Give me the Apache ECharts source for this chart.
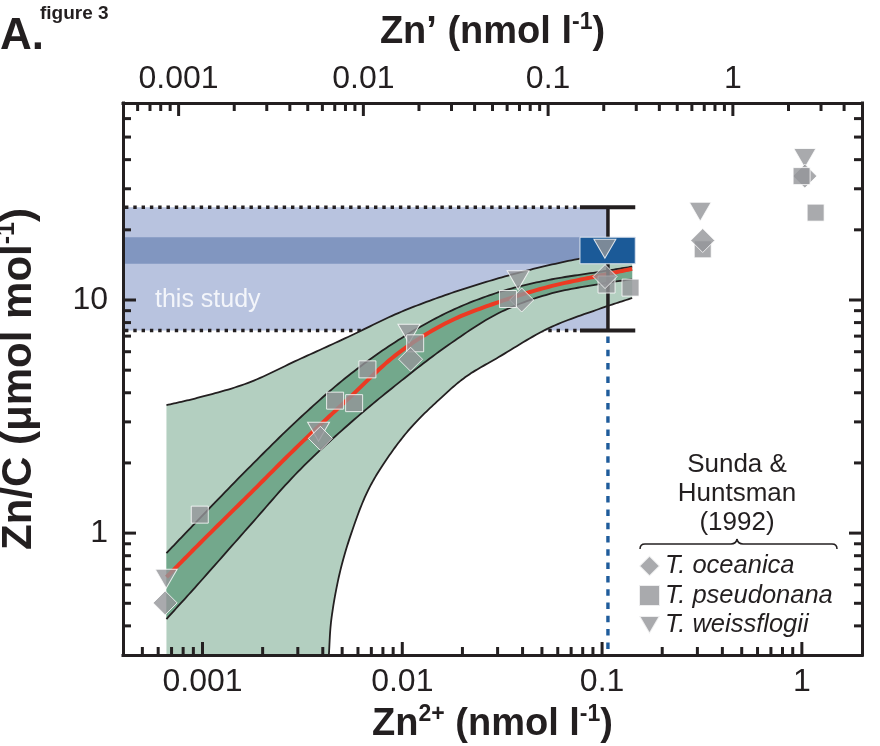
<!DOCTYPE html>
<html>
<head>
<meta charset="utf-8">
<script src="https://cdn.jsdelivr.net/npm/echarts@6/dist/echarts.min.js"></script>
<style>html,body{margin:0;padding:0;background:#fff}#chart{width:880px;height:746px}</style>
</head>
<body>
<div id="chart"></div>
<script>
// ---------- axis ranges & ticks ----------
const zn2Range = [0.0004, 2];          // bottom axis, Zn2+ (nmol l-1)
const znPrimeRange = [0.0005, 5];      // top axis, Zn' (nmol l-1)
const znCRange = [0.3, 70];            // y axis, Zn/C (umol mol-1)

const zn2TickLabels = [0.001, 0.01, 0.1, 1];
const znPrimeTickLabels = [0.001, 0.01, 0.1, 1];
const znCTickLabels = [1, 10];

const zn2MinorTicks = [0.0005, 0.0006, 0.0007, 0.0008, 0.0009,
  0.002, 0.003, 0.004, 0.005, 0.006, 0.007, 0.008, 0.009,
  0.02, 0.03, 0.04, 0.05, 0.06, 0.07, 0.08, 0.09,
  0.2, 0.3, 0.4, 0.5, 0.6, 0.7, 0.8, 0.9];
const znPrimeMinorTicks = [0.0006, 0.0007, 0.0008, 0.0009,
  0.002, 0.003, 0.004, 0.005, 0.006, 0.007, 0.008, 0.009,
  0.02, 0.03, 0.04, 0.05, 0.06, 0.07, 0.08, 0.09,
  0.2, 0.3, 0.4, 0.5, 0.6, 0.7, 0.8, 0.9, 2, 3, 4];
const znCMinorTicks = [0.4, 0.5, 0.6, 0.7, 0.8, 0.9, 2, 3, 4, 5, 6, 7, 8, 9, 20, 30, 40, 50, 60];

// ---------- "this study" ----------
const studyZn2 = 0.107;
const studyZn2Range = [0.0775, 0.1466];
const studyZnCRange = [7.4, 25];
const studyZnCCore = [14.3, 18.6];

// ---------- model fit & confidence bands ----------
const curveZn2 =   [0.00066, 0.00094, 0.00168, 0.0030, 0.00535, 0.00955, 0.0170, 0.0304, 0.0542, 0.0966, 0.1415];
const outerUpper = [3.54, 3.80, 4.40, 5.53, 6.94, 8.79, 10.6, 12.4, 14.1, 15.6, 16.4];
const innerUpper = [0.821, 1.126, 1.88, 3.06, 4.72, 6.73, 8.88, 10.8, 12.2, 13.2, 13.9];
const fitLine =    [0.647, 0.880, 1.44, 2.36, 3.76, 5.92, 8.05, 9.80, 11.4, 12.7, 13.6];
const innerLower = [0.428, 0.598, 1.05, 1.83, 2.91, 4.40, 6.41, 8.79, 10.6, 11.7, 12.3];
const outerLowerZn2 = [0.00429, 0.00441, 0.00486, 0.00556, 0.00675, 0.0085, 0.0111, 0.0152, 0.0207, 0.0304, 0.0542, 0.0966, 0.1415];
const outerLower =    [0.3, 0.423, 0.673, 1.0, 1.53, 2.12, 2.85, 3.72, 4.67, 5.69, 7.58, 9.15, 10.2];

// ---------- Sunda & Huntsman (1992) ----------
const oceanicaZn2 = [0.00065, 0.00389, 0.0110, 0.0396, 0.1035, 0.319, 1.035];
const oceanicaZnC = [0.502, 2.55, 5.57, 10.0, 12.6, 18.0, 34.0];
const pseudonanaZn2 = [0.000969, 0.00461, 0.00574, 0.00669, 0.0116, 0.0338, 0.1053, 0.1388, 0.319, 0.997, 1.172];
const pseudonanaZnC = [1.20, 3.70, 3.61, 5.04, 6.52, 10.1, 11.65, 11.3, 16.5, 34.0, 23.7];
const weissflogiiZn2 = [0.000658, 0.00381, 0.0108, 0.0380, 0.1033, 0.310, 1.035];
const weissflogiiZnC = [0.637, 2.72, 7.16, 12.15, 16.6, 23.9, 40.6];

// ---------- styling ----------
const FONT = "'Liberation Sans', Arial, Helvetica, sans-serif";
const INK = '#231f20';
const GRAY = '#939598';
const TRI = 'path://M0,0L22,0L11,19Z';

function pairs(xs, ys) { return xs.map((x, i) => [x, ys[i]]); }
function fmt(v) { return String(Number(Number(v).toPrecision(6))); }
function labelFormatter(list) {
  return function (v) {
    const n = Number(Number(v).toPrecision(6));
    return list.some(t => Math.abs(t - n) / t < 1e-6) ? fmt(n) : '';
  };
}

// centripetal Catmull-Rom through pixel points (render-time smoothing only)
function smoothPath(pts, steps) {
  if (pts.length < 3) return pts.slice();
  const out = [pts[0]];
  const n = pts.length;
  const get = (i) => {
    if (i < 0) return [2 * pts[0][0] - pts[1][0], 2 * pts[0][1] - pts[1][1]];
    if (i >= n) return [2 * pts[n - 1][0] - pts[n - 2][0], 2 * pts[n - 1][1] - pts[n - 2][1]];
    return pts[i];
  };
  const dt = (a, b) => Math.max(Math.pow(Math.hypot(b[0] - a[0], b[1] - a[1]), 0.5), 1e-4);
  const lerp = (a, b, ta, tb, t) => [((tb - t) * a[0] + (t - ta) * b[0]) / (tb - ta), ((tb - t) * a[1] + (t - ta) * b[1]) / (tb - ta)];
  for (let i = 0; i < n - 1; i++) {
    const p0 = get(i - 1), p1 = get(i), p2 = get(i + 1), p3 = get(i + 2);
    const t0 = 0, t1 = t0 + dt(p0, p1), t2 = t1 + dt(p1, p2), t3 = t2 + dt(p2, p3);
    for (let s = 1; s <= steps; s++) {
      const t = t1 + (t2 - t1) * s / steps;
      const A1 = lerp(p0, p1, t0, t1, t), A2 = lerp(p1, p2, t1, t2, t), A3 = lerp(p2, p3, t2, t3, t);
      const B1 = lerp(A1, A2, t0, t2, t), B2 = lerp(A2, A3, t1, t3, t);
      out.push(lerp(B1, B2, t1, t2, t));
    }
  }
  return out;
}
function curvePx(api, xs, ys) { return smoothPath(xs.map((x, i) => api.coord([x, ys[i]])), 16); }

const chart = echarts.init(document.getElementById('chart'), null, { renderer: 'canvas', width: 880, height: 746 });

const supRich = { sup: { fontSize: 23, fontWeight: 'bold', fontFamily: FONT, color: INK, lineHeight: 26, verticalAlign: 'top' } };
const nameStyle = { fontSize: 38, fontWeight: 'bold', fontFamily: FONT, color: INK, lineHeight: 44, rich: supRich };
const yNameStyle = { fontSize: 42, fontWeight: 'bold', fontFamily: FONT, color: INK, lineHeight: 48,
  rich: { sup: { fontSize: 25, fontWeight: 'bold', fontFamily: FONT, color: INK, lineHeight: 28, verticalAlign: 'top' } } };
const axisLineStyle = { show: true, lineStyle: { color: INK, width: 3, cap: 'square' } };

// -------- render functions --------
function studyBandRender(params, api) {
  const cs = params.coordSys;
  const a = api.coord([zn2Range[0], studyZnCRange[1]]);
  const b = api.coord([studyZn2, studyZnCRange[0]]);
  const c = api.coord([zn2Range[0], studyZnCCore[1]]);
  const d = api.coord([studyZn2, studyZnCCore[0]]);
  const capL = api.coord([studyZn2Range[0], studyZnCRange[0]])[0];
  const ten = api.coord([1, 10])[1];
  const dot = { stroke: INK, lineWidth: 3.5, lineDash: [3.4, 4.9] };
  return { type: 'group', children: [
    { type: 'rect', shape: { x: cs.x, y: a[1], width: b[0] - cs.x, height: b[1] - a[1] }, style: { fill: '#b8c3df' } },
    { type: 'rect', shape: { x: cs.x, y: c[1], width: d[0] - cs.x, height: d[1] - c[1] }, style: { fill: '#8196c0' } },
    { type: 'line', shape: { x1: cs.x + 2, y1: a[1], x2: capL, y2: a[1] }, style: dot },
    { type: 'line', shape: { x1: cs.x + 2, y1: b[1], x2: capL, y2: b[1] }, style: dot },
    { type: 'text', x: cs.x + 32, y: ten, style: { text: 'this study', fill: '#f3f5fa', fontSize: 25, fontFamily: FONT, verticalAlign: 'middle', align: 'left' } }
  ] };
}

function outerBandRender(params, api) {
  const up = curvePx(api, curveZn2, outerUpper);
  const lo = curvePx(api, outerLowerZn2, outerLower).reverse();
  const pts = up.concat(lo, [api.coord([curveZn2[0], znCRange[0]])]);
  return { type: 'polygon', shape: { points: pts }, style: { fill: '#b3cfc0' } };
}

function innerBandRender(params, api) {
  const up = curvePx(api, curveZn2, innerUpper);
  const lo = curvePx(api, curveZn2, innerLower).reverse();
  return { type: 'polygon', shape: { points: up.concat(lo) }, style: { fill: '#73a88c' } };
}

function bandLinesRender(params, api) {
  const st = { stroke: INK, lineWidth: 1.8, fill: null, lineJoin: 'round' };
  return { type: 'group', children: [
    { type: 'polyline', shape: { points: curvePx(api, curveZn2, outerUpper) }, style: st },
    { type: 'polyline', shape: { points: curvePx(api, outerLowerZn2, outerLower) }, style: st },
    { type: 'polyline', shape: { points: curvePx(api, curveZn2, innerUpper) }, style: st },
    { type: 'polyline', shape: { points: curvePx(api, curveZn2, innerLower) }, style: st }
  ] };
}

function fitLineRender(params, api) {
  return { type: 'polyline', shape: { points: curvePx(api, curveZn2, fitLine) },
    style: { stroke: '#ec3a23', lineWidth: 4, fill: null, lineJoin: 'round' } };
}

function errorBarRender(params, api) {
  const top = api.coord([studyZn2, studyZnCRange[1]]);
  const bot = api.coord([studyZn2, studyZnCRange[0]]);
  const l = api.coord([studyZn2Range[0], 1])[0];
  const r = api.coord([studyZn2Range[1], 1])[0];
  const yMinPx = api.coord([studyZn2, znCRange[0]])[1];
  return { type: 'group', children: [
    { type: 'line', shape: { x1: top[0], y1: bot[1] + 6, x2: top[0], y2: yMinPx }, style: { stroke: '#1f5c9c', lineWidth: 3.4, lineDash: [6.5, 6.8] } },
    { type: 'line', shape: { x1: top[0], y1: top[1], x2: top[0], y2: bot[1] }, style: { stroke: INK, lineWidth: 3.5 } },
    { type: 'line', shape: { x1: l, y1: top[1], x2: r, y2: top[1] }, style: { stroke: INK, lineWidth: 3.8 } },
    { type: 'line', shape: { x1: l, y1: bot[1], x2: r, y2: bot[1] }, style: { stroke: INK, lineWidth: 3.8 } }
  ] };
}

function studyBoxRender(params, api) {
  const a = api.coord([studyZn2Range[0], studyZnCCore[1]]);
  const b = api.coord([studyZn2Range[1], studyZnCCore[0]]);
  return { type: 'rect', shape: { x: a[0], y: a[1], width: b[0] - a[0], height: b[1] - a[1] }, style: { fill: '#1b5a98', stroke: '#dce3ee', lineWidth: 1 } };
}

function bottomTickRender(params, api) {
  const cs = params.coordSys;
  const x = api.coord([api.value(0), 1])[0];
  const L = api.value(2) ? 13 : 8;
  const y0 = cs.y + cs.height;
  return { type: 'line', shape: { x1: x, y1: y0, x2: x, y2: y0 - L }, style: { stroke: INK, lineWidth: 3 } };
}
function topTickRender(params, api) {
  const cs = params.coordSys;
  const x = api.coord([api.value(0), 1])[0];
  const L = api.value(2) ? 13 : 8;
  return { type: 'line', shape: { x1: x, y1: cs.y, x2: x, y2: cs.y + L }, style: { stroke: INK, lineWidth: 3 } };
}
function yTickRender(params, api) {
  const cs = params.coordSys;
  const y = api.coord([1, api.value(1)])[1];
  const L = api.value(2) ? 13 : 8;
  const r = cs.x + cs.width;
  return { type: 'group', children: [
    { type: 'line', shape: { x1: cs.x, y1: y, x2: cs.x + L, y2: y }, style: { stroke: INK, lineWidth: 3 } },
    { type: 'line', shape: { x1: r, y1: y, x2: r - L, y2: y }, style: { stroke: INK, lineWidth: 3 } }
  ] };
}

const markerStyle = { color: GRAY, borderColor: '#ffffff', borderWidth: 1 };
const oceanicaAll = pairs(oceanicaZn2, oceanicaZnC);
const oceanicaBehind = [3, 6];   // points that sit behind the squares in the original

const braceStyle = { stroke: INK, lineWidth: 1.5, fill: null };

const option = {
  animation: false,
  backgroundColor: '#ffffff',
  textStyle: { fontFamily: FONT },
  grid: { left: 123, right: 18, top: 103, bottom: 91, containLabel: false, outerBoundsMode: 'none' },
  legend: {
    left: 633, top: 548, orient: 'vertical', itemWidth: 21, itemHeight: 21, itemGap: 3.5,
    selectedMode: false,
    textStyle: { fontSize: 25.5, fontStyle: 'italic', fontFamily: FONT, color: INK, lineHeight: 24 },
    data: [
      { name: 'T. oceanica', icon: 'diamond' },
      { name: 'T. pseudonana', icon: 'rect' },
      { name: 'T. weissflogii', icon: TRI }
    ]
  },
  xAxis: [
    {
      type: 'log', logBase: 10, min: zn2Range[0], max: zn2Range[1], position: 'bottom', z: 11,
      axisLine: axisLineStyle, axisTick: { show: false }, splitLine: { show: false }, minorTick: { show: false },
      axisLabel: { fontSize: 32, color: INK, fontFamily: FONT, margin: 11, showMinLabel: false, showMaxLabel: false, formatter: labelFormatter(zn2TickLabels) },
      name: 'Zn{sup|2+} (nmol l{sup|-1})', nameLocation: 'middle', nameGap: 44, nameTextStyle: nameStyle
    },
    {
      type: 'log', logBase: 10, min: znPrimeRange[0], max: znPrimeRange[1], position: 'top', z: 11,
      axisLine: axisLineStyle, axisTick: { show: false }, splitLine: { show: false }, minorTick: { show: false },
      axisLabel: { fontSize: 32, color: INK, fontFamily: FONT, margin: 8, showMinLabel: false, showMaxLabel: false, formatter: labelFormatter(znPrimeTickLabels) },
      name: 'Zn\u2019 (nmol l{sup|-1})', nameLocation: 'middle', nameGap: 48, nameTextStyle: nameStyle
    }
  ],
  yAxis: [
    {
      type: 'log', logBase: 10, min: znCRange[0], max: znCRange[1], position: 'left', z: 11,
      axisLine: axisLineStyle, axisTick: { show: false }, splitLine: { show: false }, minorTick: { show: false },
      axisLabel: { fontSize: 32, color: INK, fontFamily: FONT, margin: 15, showMinLabel: false, showMaxLabel: false, formatter: labelFormatter(znCTickLabels) },
      name: 'Zn/C (\u03bcmol mol{sup|-1})', nameLocation: 'middle', nameRotate: 90, nameGap: 80, nameTextStyle: yNameStyle
    },
    {
      type: 'log', logBase: 10, min: znCRange[0], max: znCRange[1], position: 'right', z: 11,
      axisLine: axisLineStyle, axisTick: { show: false }, splitLine: { show: false }, minorTick: { show: false },
      axisLabel: { show: false }
    }
  ],
  series: [
    { type: 'custom', name: 'study band', renderItem: studyBandRender, data: [[studyZn2, studyZnCRange[1]]], silent: true, z: 1 },
    { type: 'custom', name: 'outer band', renderItem: outerBandRender, data: [[curveZn2[0], outerUpper[0]]], silent: true, z: 2 },
    { type: 'custom', name: 'inner band', renderItem: innerBandRender, data: [[curveZn2[0], innerUpper[0]]], silent: true, z: 2.5 },
    { type: 'custom', name: 'band lines', renderItem: bandLinesRender, data: [[curveZn2[0], innerUpper[0]]], silent: true, z: 3 },
    { type: 'custom', name: 'fit', renderItem: fitLineRender, data: [[curveZn2[0], fitLine[0]]], silent: true, z: 4 },
    { type: 'custom', name: 'error bar', renderItem: errorBarRender, data: [[studyZn2, studyZnCRange[0]]], silent: true, z: 5 },
    { type: 'custom', name: 'study box', renderItem: studyBoxRender, data: [[studyZn2, studyZnCCore[0]]], silent: true, z: 6 },
    {
      type: 'scatter', name: 'T. weissflogii', data: pairs(weissflogiiZn2, weissflogiiZnC), z: 7,
      symbol: TRI, symbolSize: [22, 19], itemStyle: markerStyle, silent: true
    },
    {
      type: 'scatter', name: 'T. oceanica', data: oceanicaAll.filter((p, i) => oceanicaBehind.includes(i)), z: 7.5,
      symbol: 'diamond', symbolSize: 24, itemStyle: markerStyle, silent: true
    },
    {
      type: 'scatter', name: 'T. pseudonana', data: pairs(pseudonanaZn2, pseudonanaZnC), z: 8,
      symbol: 'rect', symbolSize: 17, itemStyle: markerStyle, silent: true
    },
    {
      type: 'scatter', name: 'T. oceanica', data: oceanicaAll.filter((p, i) => !oceanicaBehind.includes(i)), z: 8.5,
      symbol: 'diamond', symbolSize: 24, itemStyle: markerStyle, silent: true
    },
    { type: 'custom', name: 'bottom ticks', xAxisIndex: 0, yAxisIndex: 0, renderItem: bottomTickRender, silent: true, z: 10,
      data: zn2MinorTicks.map(v => [v, 1, 0]).concat(zn2TickLabels.map(v => [v, 1, 1])) },
    { type: 'custom', name: 'top ticks', xAxisIndex: 1, yAxisIndex: 0, renderItem: topTickRender, silent: true, z: 10,
      data: znPrimeMinorTicks.map(v => [v, 1, 0]).concat(znPrimeTickLabels.map(v => [v, 1, 1])) },
    { type: 'custom', name: 'y ticks', xAxisIndex: 0, yAxisIndex: 0, renderItem: yTickRender, silent: true, z: 10,
      data: znCMinorTicks.map(v => [1, v, 0]).concat(znCTickLabels.map(v => [1, v, 1])) }
  ],
  graphic: [
    { type: 'text', x: 0, y: 15, style: { text: 'A.', fontSize: 44, fontWeight: 'bold', fontFamily: FONT, fill: INK } },
    { type: 'text', x: 40, y: 4, style: { text: 'figure 3', fontSize: 19, fontWeight: 'bold', fontFamily: FONT, fill: INK } },
    { type: 'text', x: 737, y: 450, style: { text: 'Sunda &\nHuntsman\n(1992)', align: 'center', verticalAlign: 'top', fontSize: 26, lineHeight: 29, fontFamily: FONT, fill: INK } },
    { type: 'bezierCurve', shape: { x1: 640, y1: 549, cpx1: 640, cpy1: 544, x2: 645, y2: 544 }, style: braceStyle },
    { type: 'line', shape: { x1: 645, y1: 544, x2: 731, y2: 544 }, style: braceStyle },
    { type: 'bezierCurve', shape: { x1: 731, y1: 544, cpx1: 736, cpy1: 544, x2: 737, y2: 539 }, style: braceStyle },
    { type: 'bezierCurve', shape: { x1: 737, y1: 539, cpx1: 738, cpy1: 544, x2: 743, y2: 544 }, style: braceStyle },
    { type: 'line', shape: { x1: 743, y1: 544, x2: 832, y2: 544 }, style: braceStyle },
    { type: 'bezierCurve', shape: { x1: 832, y1: 544, cpx1: 837, cpy1: 544, x2: 837, y2: 549 }, style: braceStyle }
  ]
};

chart.setOption(option);
</script>
</body>
</html>
